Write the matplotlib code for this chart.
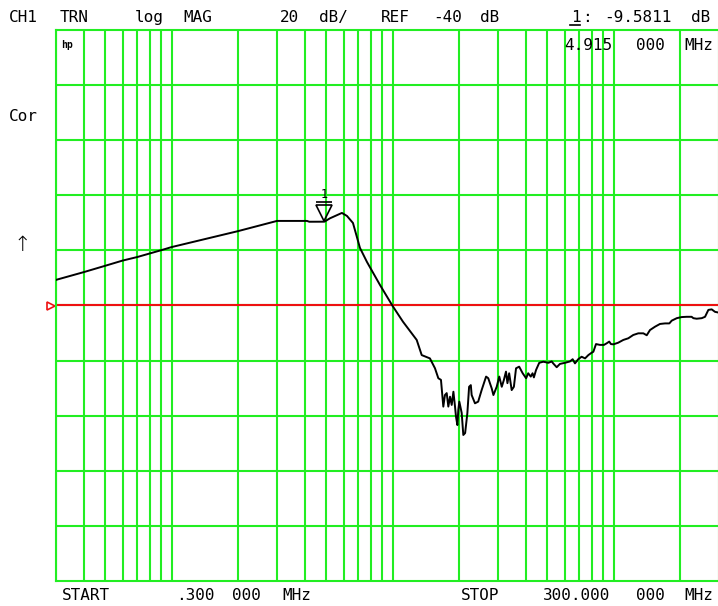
import numpy as np
import matplotlib
matplotlib.use("Agg")
import matplotlib.pyplot as plt
from matplotlib.transforms import offset_copy

# ---------------- data ----------------
freq_mhz = [0.3, 0.4, 0.5, 0.6, 0.7, 0.9, 1.0, 2.0, 3.0, 4.10, 4.20, 4.915, 5.21, 5.9, 6.22,
            6.62, 7.12, 7.66, 8.78, 10.01, 11.15, 12.86, 13.55, 14.76, 15.56, 16.11, 16.56,
            16.97, 17.26, 17.58, 17.88, 18.2, 18.52, 18.85, 19.17, 19.37, 19.65, 19.84, 20.05,
            20.55, 20.9, 21.3, 21.8, 22.2, 22.6, 22.8, 23.6, 24.4, 25.3, 26.5, 27.1, 28.1,
            28.6, 29.6, 30.4, 31.2, 31.9, 32.6, 33.1, 33.7, 34.6, 35.4, 36.2, 37.4, 38.8,
            40.2, 41.1, 42.2, 43.0, 43.6, 44.6, 46.1, 48.1, 50.7, 52.5, 53.3, 55.3, 57.2,
            60.3, 63.5, 65.3, 66.9, 69.2, 71.7, 74.3, 76.9, 79.7, 81.0, 83.3, 86.8, 90.5,
            93.2, 95.6, 97.3, 99.8, 105, 110.7, 116.6, 122.8, 129.4, 136.4, 141.3, 146.2,
            154, 162.2, 171, 178.8, 183.3, 193.2, 203.3, 214.4, 225.5, 229.7, 237.7, 250.6,
            259.4, 268.5, 278, 287.8, 300]
mag_db = [-30.7, -27.9, -25.6, -23.7, -22.4, -19.9, -18.8, -13.0, -9.3, -9.3, -9.6, -9.58, -8.35,
          -6.4, -7.5, -10.05, -19.1, -24.2, -32.6, -40.2, -45.9, -52.5, -58.0, -59.2, -62.8,
          -66.4, -67.0, -76.7, -72.5, -71.8, -76.7, -73.1, -76.1, -71.3, -76.7, -80.4, -83.4,
          -77.9, -74.9, -79.0, -87.0, -86.3, -79.1, -69.5, -68.9, -72.5, -75.5, -74.9, -70.7,
          -65.8, -66.4, -70.1, -72.5, -69.5, -65.8, -69.5, -67.0, -64.0, -68.2, -64.6, -70.7,
          -69.5, -62.8, -62.2, -64.6, -66.4, -64.6, -65.8, -64.6, -66.1, -63.4, -60.8, -60.4,
          -60.8, -60.3, -61.0, -62.4, -61.2, -60.8, -60.3, -59.5, -61.0, -59.5, -58.6, -59.2,
          -58.0, -57.1, -56.8, -54.0, -54.3, -54.3, -53.7, -53.1, -54.0, -54.1, -53.5, -52.5,
          -51.9, -50.7, -50.1, -50.1, -50.8, -48.9, -47.7, -46.7, -46.5, -46.5, -45.5, -44.6,
          -44.2, -44.1, -44.1, -44.6, -44.8, -44.6, -44.1, -41.6, -41.4, -42.3, -42.6]

start_mhz = 0.3
stop_mhz = 300.0
ref_db = -40.0
db_per_div = 20.0
n_div = 10
marker_freq = 4.915
marker_db = -9.5811

# ---------------- figure ----------------
W, H = 718, 606
fig = plt.figure(figsize=(W / 100, H / 100), dpi=100)
fig.patch.set_facecolor("white")

left_px, right_px, top_px, bot_px = 56, 719, 30, 581
ax = fig.add_axes([left_px / W, 1 - bot_px / H, (right_px - left_px) / W, (bot_px - top_px) / H])
ax.set_xscale("log")
ax.set_xlim(start_mhz, stop_mhz)
ymin = ref_db - db_per_div * n_div / 2
ymax = ref_db + db_per_div * n_div / 2
ax.set_ylim(ymin, ymax)
ax.set_xticks([])
ax.set_yticks([])
ax.minorticks_off()

green = "#22ee22"
for s in ax.spines.values():
    s.set_color(green)
    s.set_linewidth(1.5)

# vertical log grid lines
vlines = []
for dec in [0.1, 1, 10, 100]:
    for m in range(1, 10):
        f = m * dec
        if start_mhz < f < stop_mhz:
            vlines.append(f)
for f in vlines:
    ax.axvline(f, color=green, lw=1.5, zorder=1)
for k in range(1, n_div):
    ax.axhline(ymin + k * db_per_div, color=green, lw=1.5, zorder=1)

# reference line
ax.axhline(ref_db, color="#ee1111", lw=1.5, zorder=2)

# trace
ax.plot(freq_mhz, mag_db, color="black", lw=1.4, zorder=3)

# marker 1
trans_up = offset_copy(ax.transData, fig=fig, x=0, y=6.3, units="points")
ax.plot([marker_freq], [marker_db], marker="v", ms=12, mfc="none", mec="black",
        mew=1.2, transform=trans_up, zorder=4, clip_on=False)
trans_bar = offset_copy(ax.transData, fig=fig, x=0, y=14, units="points")
ax.plot([marker_freq], [marker_db], marker="_", ms=11, mec="black", mew=1.2,
        transform=trans_bar, zorder=4, clip_on=False)
trans_lbl = offset_copy(ax.transData, fig=fig, x=0, y=15, units="points")
ax.text(marker_freq, marker_db, "1", transform=trans_lbl, ha="center", va="bottom",
        fontsize=8.5, family="DejaVu Sans Mono", zorder=4)

# reference pointer on the left
trans_ref = offset_copy(ax.transAxes, fig=fig, x=-3.5, y=0, units="points")
ax.plot([0], [0.5], marker=">", ms=6, mfc="none", mec="#ee1111", mew=1.2,
        transform=trans_ref, clip_on=False)

mono = "DejaVu Sans Mono"
fs = 11.5


def put(x0, x1, y, s, va="baseline", family=mono, **kw):
    fig.text(((x0 + x1) / 2) / W, 1 - y / H, s, ha="center", va=va,
             family=family, fontsize=kw.pop("fontsize", fs), **kw)


# header line (baseline y)
yb = 21.7
put(7, 40, yb, "CH1")
put(57, 92, yb, "TRN")
put(133, 165, yb, "log")
put(180, 215, yb, "MAG")
put(279, 300, yb, "20")
put(316, 350, yb, "dB/")
put(379, 411, yb, "REF")
put(430, 465, yb, "-40")
put(478, 501, yb, "dB")
put(571, 580, yb, "1")
put(583, 590, yb, ":")
put(595, 680, yb, "-9.5811")
fig.add_artist(plt.Line2D([570 / W, 580 / W], [1 - 25 / H, 1 - 25 / H], color="black", lw=1.2))
put(686, 716, yb, "dB")

# marker frequency
put(558, 618, 50, "4.915")
put(633, 668, 50, "000")
put(681, 716, 50, "MHz")

# left annotations
put(7, 40, 121, "Cor")
put(16, 28, 245, "\u2191", va="center", family="DejaVu Sans", fontsize=15, fontweight="light")
put(62, 73, 45, "hp", va="center", fontsize=7, fontweight="bold")

# footer
yf = 600
put(58, 113, yf, "START")
put(172, 218, yf, ".300")
put(230, 263, yf, "000")
put(280, 314, yf, "MHz")
put(458, 503, yf, "STOP")
put(535, 618, yf, "300.000")
put(633, 668, yf, "000")
put(681, 716, yf, "MHz")

fig.savefig("out.png", dpi=100, facecolor="white")
